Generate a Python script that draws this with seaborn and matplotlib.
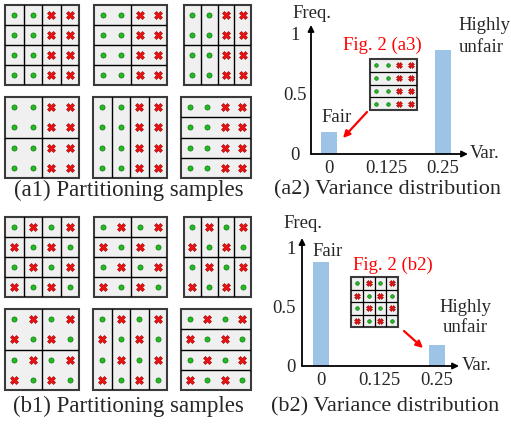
import matplotlib
matplotlib.use("Agg")
import matplotlib.pyplot as plt
from matplotlib.patches import Rectangle
import seaborn as sns

W, H = 511, 426

# 'o' = green circle, 'x' = red cross
pattern_a = ["ooxx", "ooxx", "ooxx", "ooxx"]
pattern_b = ["oxox", "xoxo", "oxox", "xoxo"]

# partitioning samples as (block rows, block cols)
partitions = [(4, 4), (4, 2), (2, 4), (2, 2), (1, 4), (4, 1)]

var_labels = ["0", "0.125", "0.25"]
freq_a = [0.18, 0.0, 0.86]
freq_b = [0.88, 0.0, 0.18]
freq_ticks = [0, 0.5, 1]
freq_ticklabels = ["0", "0.5", "1"]

captions = ["(a1) Partitioning samples", "(a2) Variance distribution",
            "(b1) Partitioning samples", "(b2) Variance distribution"]

sns.set_theme(style="white")
plt.rcParams["font.family"] = ["Liberation Serif", "DejaVu Serif"]

GREEN = "#22bb22"
RED = "#ee1111"
BAR = "#9dc3e6"
FS = 13.5


def px_axes(fig, x0, y0, x1, y1):
    return fig.add_axes([x0 / W, 1 - y1 / H, (x1 - x0) / W, (y1 - y0) / H])


def draw_grid(ax, pattern, part, ms_o=3.7, ms_x=5.8, lw=1.0):
    ax.set_xlim(0, 4)
    ax.set_ylim(4, 0)
    ax.axis("off")
    nr, nc = part
    ax.add_patch(Rectangle((0, 0), 4, 4, fc="#f0f0f0", ec="none"))
    for k in range(1, nr):
        ax.plot([0, 4], [4 * k / nr] * 2, color="black", lw=lw)
    for k in range(1, nc):
        ax.plot([4 * k / nc] * 2, [0, 4], color="black", lw=lw)
    ax.add_patch(Rectangle((0, 0), 4, 4, fc="none", ec="#3a3a3a", lw=1.5,
                           clip_on=False))
    ox, oy, xx, xy = [], [], [], []
    for r, row in enumerate(pattern):
        for c, ch in enumerate(row):
            if ch == "o":
                ox.append(c + 0.5)
                oy.append(r + 0.5)
            else:
                xx.append(c + 0.5)
                xy.append(r + 0.5)
    ax.plot(ox, oy, "o", ms=ms_o, mfc=GREEN, mec="#117711", mew=0.5)
    ax.plot(xx, xy, "X", ms=ms_x, mfc=RED, mec="#990000", mew=0.4)


def draw_bars(ax, freq, xlim, ylim, ycenter):
    sns.barplot(x=var_labels, y=freq, color=BAR, width=0.28, linewidth=0,
                saturation=1, ax=ax)
    ax.set_facecolor("none")
    ax.set_xlim(*xlim)
    ax.set_ylim(*ylim)
    ax.set_xlabel("")
    ax.set_ylabel("")
    for s in ax.spines.values():
        s.set_visible(False)
    ax.set_yticks(freq_ticks)
    ax.set_yticklabels(freq_ticklabels)
    ax.tick_params(axis="both", length=0, labelsize=FS)
    ax.tick_params(axis="x", pad=4.5)
    if ycenter:
        ax.tick_params(axis="y", pad=11.5)
        for lab in ax.get_yticklabels():
            lab.set_ha("center")
    else:
        ax.tick_params(axis="y", pad=4.5)
    arrow = dict(arrowstyle="-|>", color="black", lw=1.3, shrinkA=0,
                 shrinkB=0, mutation_scale=9)
    ax.annotate("", xy=(1, 0), xytext=(0, 0), xycoords="axes fraction",
                arrowprops=arrow)
    ax.annotate("", xy=(0, 1), xytext=(0, 0), xycoords="axes fraction",
                arrowprops=arrow)


fig = plt.figure(figsize=(W / 100, H / 100), dpi=100)

# bar charts
ax_a = px_axes(fig, 311, 25, 468, 154)
draw_bars(ax_a, freq_a, (-0.32, 2.44), (0, 1.07), True)
ax_b = px_axes(fig, 302, 238, 459, 366)
draw_bars(ax_b, freq_b, (-0.33, 2.38), (0, 1.08), False)

# partitioning samples
boxes = [(5, 5, 79, 85), (94, 5, 167, 85), (184, 5, 251, 85),
         (5, 97, 79, 178), (93, 97, 167, 178), (181, 97, 251, 178)]
for (x0, y0, x1, y1), part in zip(boxes, partitions):
    draw_grid(px_axes(fig, x0, y0, x1, y1), pattern_a, part)
    draw_grid(px_axes(fig, x0, y0 + 212, x1, y1 + 212), pattern_b, part)

# insets
draw_grid(px_axes(fig, 370, 59, 417, 110), pattern_a, (4, 1),
          ms_o=2.6, ms_x=4.0, lw=0.9)
draw_grid(px_axes(fig, 351, 277, 398, 327), pattern_b, (4, 4),
          ms_o=2.6, ms_x=4.0, lw=0.9)

# texts and arrows
ov = fig.add_axes([0, 0, 1, 1])
ov.set_xlim(0, W)
ov.set_ylim(H, 0)
ov.axis("off")
ov.set_facecolor("none")

kw = dict(fontsize=FS, va="center", ha="left")
ov.text(292, 13, "Freq.", **kw)
ov.text(470, 154, "Var.", **kw)
ov.text(321, 118, "Fair", **kw)
ov.text(458, 25, "Highly", **kw)
ov.text(459, 47, "unfair", **kw)
ov.text(343, 45, "Fig. 2 (a3)", color="red", **kw)

ov.text(283, 223, "Freq.", **kw)
ov.text(462, 365, "Var.", **kw)
ov.text(312, 252, "Fair", **kw)
ov.text(465, 307, "Highly", fontsize=FS, va="center", ha="center")
ov.text(465, 328, "unfair", fontsize=FS, va="center", ha="center")
ov.text(353, 265, "Fig. 2 (b2)", color="red", **kw)

red_arrow = dict(arrowstyle="-|>", color="red", lw=1.6, shrinkA=0,
                 shrinkB=0, mutation_scale=10)
ov.annotate("", xy=(343, 138), xytext=(367, 112), arrowprops=red_arrow)
ov.annotate("", xy=(423, 348), xytext=(404, 331), arrowprops=red_arrow)

ov.text(129, 190, captions[0], fontsize=16.5, va="center", ha="center")
ov.text(388, 190, captions[1], fontsize=16, va="center", ha="center")
ov.text(128, 406, captions[2], fontsize=16.5, va="center", ha="center")
ov.text(385, 407, captions[3], fontsize=16, va="center", ha="center")

fig.savefig("out.png", dpi=100)
